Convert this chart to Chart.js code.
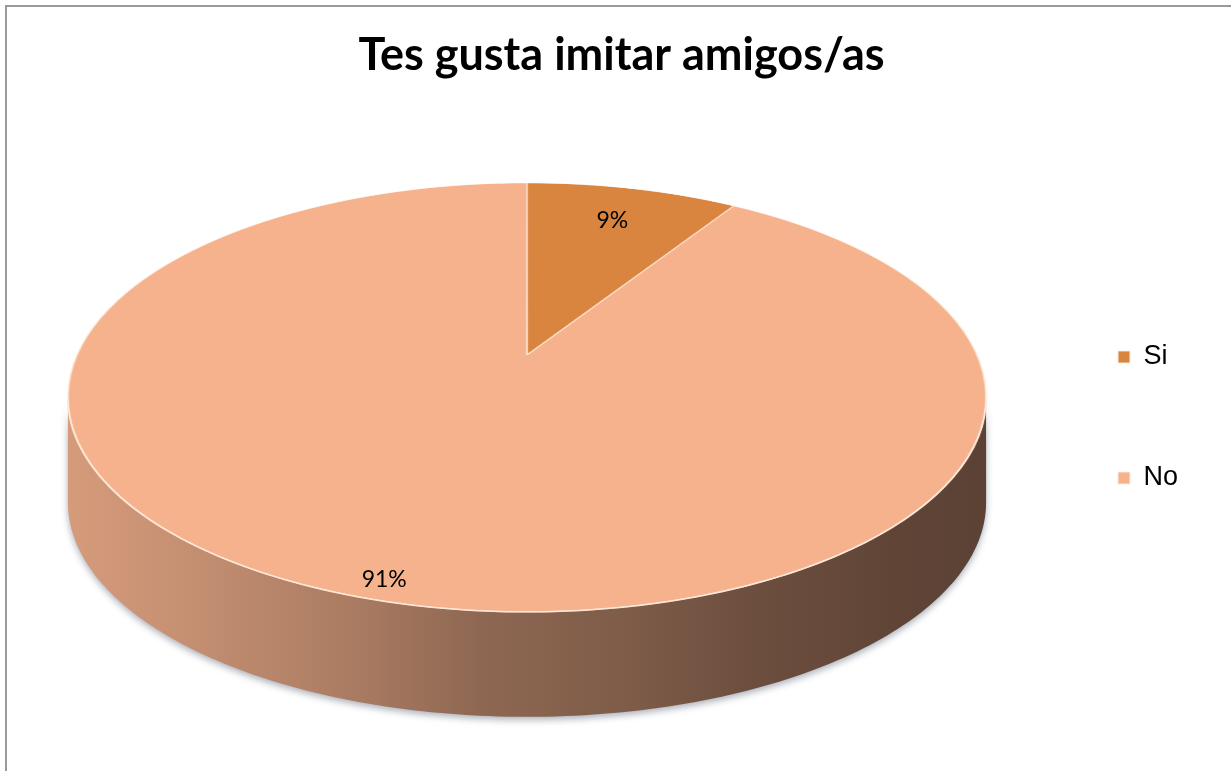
<!DOCTYPE html>
<html>
<head>
<meta charset="utf-8">
<script src="https://cdn.jsdelivr.net/npm/chart.js@4.4.1/dist/chart.umd.min.js"></script>
<style>
  html, body { margin: 0; padding: 0; background: #fff; width: 1231px; height: 771px; overflow: hidden; }
  #frame { position: absolute; left: 5px; top: 5px; width: 1300px; height: 900px; border: 2px solid #999; box-sizing: border-box; }
  #wrap { position: absolute; left: 0; top: 0; width: 1231px; height: 771px; }
</style>
</head>
<body>
<div id="frame"></div>
<div id="wrap"><canvas id="c" width="1231" height="771"></canvas></div>
<script>
// Survey answers (percent of respondents)
const categories = ['Si', 'No'];
const percentages = [9, 91];
const chartTitle = 'Tes gusta imitar amigos/as';

// Slice fills
const sliceColors = ['#D9843F', '#F5B28D'];

function shade(hex, f) {
  const n = parseInt(hex.slice(1), 16);
  const r = (n >> 16) & 255, g = (n >> 8) & 255, b = n & 255;
  return `rgb(${Math.round(r * f)},${Math.round(g * f)},${Math.round(b * f)})`;
}

// Draws the pie as a tilted disc seen in perspective: the arc elements
// render the flat pie off-screen, which is then projected row by row.
const pie3d = {
  id: 'pie3d',
  beforeDatasetsDraw(chart, args, o) {
    const meta = chart.getDatasetMeta(0);
    const arcs = meta.data;
    if (!arcs.length) return;
    const x0 = arcs[0].x, y0 = arcs[0].y, r = arcs[0].outerRadius;
    const ctx = chart.ctx;
    const { cx, cy, a, b, k, depth } = o;
    const P = (u, v) => [cx + a * u / (1 - k * v), cy + b * v / (1 - k * v)];

    // flat pie drawn by the library's arc elements
    const S = 2;
    const off = document.createElement('canvas');
    off.width = chart.width * S; off.height = chart.height * S;
    const octx = off.getContext('2d');
    octx.scale(S, S);
    arcs.forEach(el => el.draw(octx));

    // visible side wall (front half of the disc)
    const e = Math.asin(k);
    const f1 = e, f2 = Math.PI - e;
    const aMax = a / Math.sqrt(1 - k * k);
    ctx.save();
    ctx.shadowColor = 'rgba(70,80,100,0.45)';
    ctx.shadowBlur = 7;
    ctx.shadowOffsetY = 3;
    arcs.forEach(el => {
      const s = el.startAngle, en = el.endAngle;
      [-2 * Math.PI, 0, 2 * Math.PI].forEach(shift => {
        const lo = Math.max(s, f1 + shift), hi = Math.min(en, f2 + shift);
        if (hi <= lo) return;
        const grad = ctx.createLinearGradient(cx - aMax, 0, cx + aMax, 0);
        o.sideShade.forEach(([pos, f]) => grad.addColorStop(pos, shade(el.options.backgroundColor, f)));
        ctx.fillStyle = grad;
        ctx.beginPath();
        const N = 160;
        for (let i = 0; i <= N; i++) {
          const th = lo + (hi - lo) * i / N - shift;
          const [x, y] = P(Math.cos(th), Math.sin(th));
          i ? ctx.lineTo(x, y) : ctx.moveTo(x, y);
        }
        for (let i = N; i >= 0; i--) {
          const th = lo + (hi - lo) * i / N - shift;
          const [x, y] = P(Math.cos(th), Math.sin(th));
          ctx.lineTo(x, y + depth);
        }
        ctx.closePath();
        ctx.fill();
      });
    });
    ctx.restore();

    // top face: each screen row samples one row of the flat pie
    ctx.save();
    ctx.imageSmoothingEnabled = true;
    ctx.imageSmoothingQuality = 'high';
    const top = Math.floor(cy - b / (1 + k)) - 1;
    const bottom = Math.ceil(cy + b / (1 - k)) + 1;
    for (let Y = top; Y <= bottom; Y++) {
      const t = Y + 0.5 - cy;
      const den = b + k * t;
      const v = t / den;
      const dv = b / (den * den);
      const sc = a / ((1 - k * v) * r);
      const sy = (y0 + v * r - dv * r / 2) * S;
      const sh = Math.max(dv * r * S, 0.5);
      const half = r + 2;
      ctx.drawImage(off, (x0 - half) * S, sy, 2 * half * S, sh,
        cx - sc * half, Y, 2 * half * sc, 1);
    }
    ctx.restore();

    // rim highlight along the front edge
    ctx.save();
    ctx.strokeStyle = o.rimColor;
    ctx.lineWidth = 1.5;
    ctx.beginPath();
    for (let i = 0; i <= 160; i++) {
      const th = f1 + (f2 - f1) * i / 160;
      const [x, y] = P(Math.cos(th), Math.sin(th));
      i ? ctx.lineTo(x, y) : ctx.moveTo(x, y);
    }
    ctx.stroke();
    ctx.restore();

    // percentage labels
    const data = chart.data.datasets[0].data;
    const total = data.reduce((s, d) => s + d, 0);
    ctx.save();
    ctx.font = o.labelFont;
    ctx.fillStyle = '#000';
    ctx.textAlign = 'center';
    ctx.textBaseline = 'middle';
    arcs.forEach((el, i) => {
      const m = (el.startAngle + el.endAngle) / 2;
      const f = o.labelRadius[i];
      const [x, y] = P(f * Math.cos(m), f * Math.sin(m));
      ctx.fillText(Math.round(data[i] / total * 100) + '%', x, y);
    });
    ctx.restore();
    return false;
  }
};

new Chart(document.getElementById('c'), {
  type: 'pie',
  data: {
    labels: categories,
    datasets: [{
      data: percentages,
      backgroundColor: sliceColors,
      borderColor: 'rgba(255,236,222,0.85)',
      borderWidth: 1.2
    }]
  },
  options: {
    responsive: false,
    animation: false,
    events: [],
    layout: { padding: { left: 55, right: 43, top: 0, bottom: 38 } },
    plugins: {
      title: {
        display: true,
        text: chartTitle,
        color: '#000',
        font: { family: 'Lato', weight: 'bold', size: 45 },
        padding: { top: 28, bottom: 20 }
      },
      legend: {
        position: 'right',
        fullSize: false,
        labels: {
          boxWidth: 12,
          boxHeight: 12,
          padding: 94,
          color: '#000',
          font: { family: 'Liberation Sans', size: 27 }
        }
      },
      tooltip: { enabled: false },
      pie3d: {
        cx: 527, cy: 355, a: 450, b: 206, k: 0.198, depth: 105,
        labelRadius: [0.78, 0.935],
        labelFont: '23px Lato',
        rimColor: 'rgba(255,232,215,0.9)',
        sideShade: [[0, 0.87], [0.1, 0.82], [0.3, 0.7], [0.45, 0.58], [0.6, 0.52], [0.75, 0.44], [0.9, 0.39], [1, 0.37]]
      }
    }
  },
  plugins: [pie3d]
});
</script>
</body>
</html>
